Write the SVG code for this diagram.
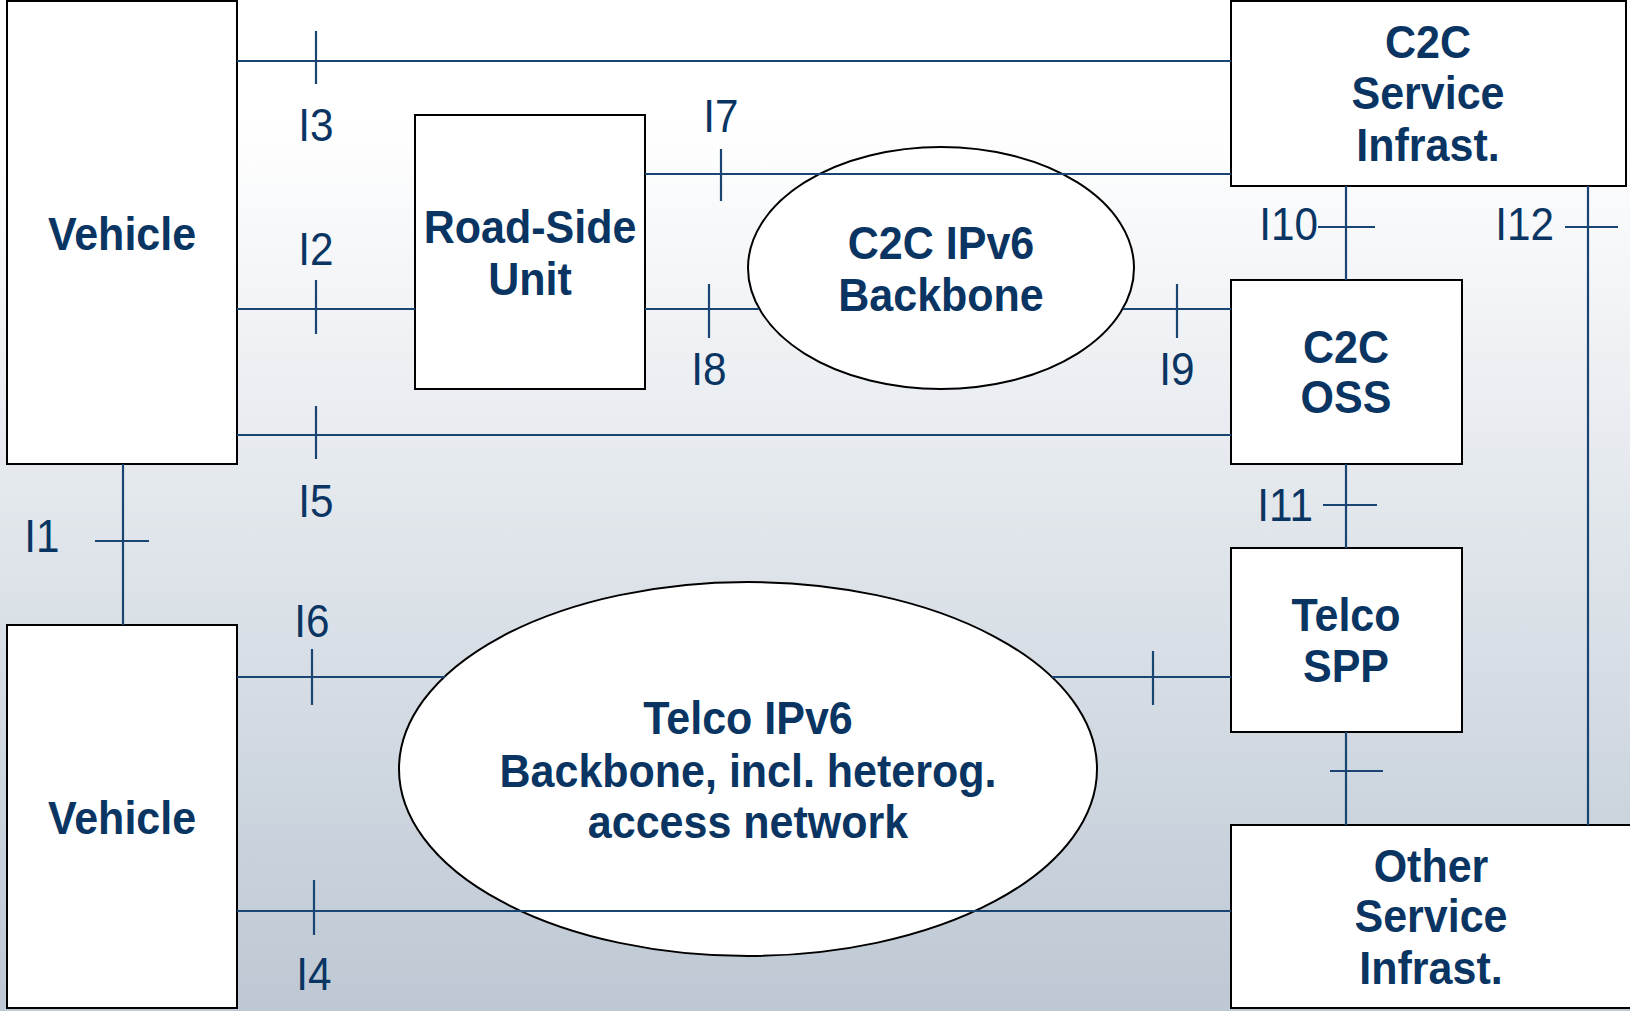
<svg xmlns="http://www.w3.org/2000/svg" width="1630" height="1011" viewBox="0 0 1630 1011">
<defs>
<linearGradient id="bg" gradientUnits="userSpaceOnUse" x1="0" y1="120" x2="0" y2="1011">
<stop offset="0" stop-color="#ffffff"/>
<stop offset="1" stop-color="#bdc8d4"/>
</linearGradient>
</defs>
<style>
.box{fill:#ffffff;stroke:#000000;stroke-width:2}
.ln{stroke:#1a4573;stroke-width:2.2;fill:none}
.nt{font-family:"Liberation Sans",Arial,sans-serif;font-weight:bold;font-size:46px;fill:#0a3563;text-anchor:middle}
.lb{font-family:"Liberation Sans",Arial,sans-serif;font-size:46px;fill:#0a3563;text-anchor:middle}
.lbe{text-anchor:end}
</style>
<rect x="0" y="0" width="1630" height="1011" fill="url(#bg)"/>

<g id="vehicle1">
<rect class="box" x="7" y="1" width="230" height="463"/>
<g transform="translate(122,0) scale(0.935,1)"><text class="nt" x="0" y="250">Vehicle</text></g>
</g>
<g id="vehicle2">
<rect class="box" x="7" y="625" width="230" height="383"/>
<g transform="translate(122,0) scale(0.935,1)"><text class="nt" x="0" y="834">Vehicle</text></g>
</g>
<g id="rsu">
<rect class="box" x="415" y="115" width="230" height="274"/>
<g transform="translate(530,0) scale(0.935,1)"><text class="nt" x="0" y="243">Road-Side</text><text class="nt" x="0" y="295">Unit</text></g>
</g>
<g id="c2c-backbone">
<ellipse class="box" cx="941" cy="268" rx="193" ry="121"/>
<g transform="translate(941,0) scale(0.935,1)"><text class="nt" x="0" y="259">C2C IPv6</text><text class="nt" x="0" y="311">Backbone</text></g>
</g>
<g id="c2c-service">
<rect class="box" x="1231" y="1" width="395" height="185"/>
<g transform="translate(1428,0) scale(0.935,1)"><text class="nt" x="0" y="58">C2C</text><text class="nt" x="0" y="109">Service</text><text class="nt" x="0" y="161">Infrast.</text></g>
</g>
<g id="c2c-oss">
<rect class="box" x="1231" y="280" width="231" height="184"/>
<g transform="translate(1346,0) scale(0.935,1)"><text class="nt" x="0" y="363">C2C</text><text class="nt" x="0" y="413">OSS</text></g>
</g>
<g id="telco-spp">
<rect class="box" x="1231" y="548" width="231" height="184"/>
<g transform="translate(1346,0) scale(0.935,1)"><text class="nt" x="0" y="631">Telco</text><text class="nt" x="0" y="682">SPP</text></g>
</g>
<g id="telco-backbone">
<ellipse class="box" cx="748" cy="769" rx="349" ry="187"/>
<g transform="translate(748,0) scale(0.935,1)"><text class="nt" x="0" y="734">Telco IPv6</text><text class="nt" x="0" y="787">Backbone, incl. heterog.</text><text class="nt" x="0" y="838">access network</text></g>
</g>
<g id="other-service">
<rect class="box" x="1231" y="825" width="400" height="183"/>
<g transform="translate(1431,0) scale(0.935,1)"><text class="nt" x="0" y="882">Other</text><text class="nt" x="0" y="932">Service</text><text class="nt" x="0" y="984">Infrast.</text></g>
</g>

<g id="connectors">
<!-- I3 -->
<line class="ln" x1="237" y1="61" x2="1231" y2="61"/>
<line class="ln" x1="316" y1="31" x2="316" y2="84"/>
<!-- I7 -->
<line class="ln" x1="645" y1="174" x2="1231" y2="174"/>
<line class="ln" x1="721" y1="149" x2="721" y2="201"/>
<!-- I2 -->
<line class="ln" x1="237" y1="309" x2="415" y2="309"/>
<line class="ln" x1="316" y1="280" x2="316" y2="334"/>
<!-- I8 -->
<line class="ln" x1="645" y1="309" x2="759" y2="309"/>
<line class="ln" x1="709" y1="284" x2="709" y2="338"/>
<!-- I9 -->
<line class="ln" x1="1123" y1="309" x2="1231" y2="309"/>
<line class="ln" x1="1177" y1="284" x2="1177" y2="338"/>
<!-- I5 -->
<line class="ln" x1="237" y1="435" x2="1231" y2="435"/>
<line class="ln" x1="316" y1="406" x2="316" y2="459"/>
<!-- I1 -->
<line class="ln" x1="123" y1="464" x2="123" y2="625"/>
<line class="ln" x1="95" y1="541" x2="149" y2="541"/>
<!-- I6 -->
<line class="ln" x1="237" y1="677" x2="445" y2="677"/>
<line class="ln" x1="312" y1="649" x2="312" y2="705"/>
<!-- Telco backbone - SPP -->
<line class="ln" x1="1052" y1="677" x2="1231" y2="677"/>
<line class="ln" x1="1153" y1="651" x2="1153" y2="705"/>
<!-- I4 -->
<line class="ln" x1="237" y1="911" x2="1231" y2="911"/>
<line class="ln" x1="314" y1="880" x2="314" y2="935"/>
<!-- I10 -->
<line class="ln" x1="1346" y1="186" x2="1346" y2="280"/>
<line class="ln" x1="1318" y1="227" x2="1375" y2="227"/>
<!-- I12 -->
<line class="ln" x1="1588" y1="186" x2="1588" y2="825"/>
<line class="ln" x1="1565" y1="227" x2="1618" y2="227"/>
<!-- I11 -->
<line class="ln" x1="1346" y1="464" x2="1346" y2="548"/>
<line class="ln" x1="1323" y1="505" x2="1377" y2="505"/>
<!-- SPP - Other -->
<line class="ln" x1="1346" y1="732" x2="1346" y2="825"/>
<line class="ln" x1="1330" y1="771" x2="1383" y2="771"/>
</g>

<g id="labels">
<g transform="translate(316,0) scale(0.92,1)"><text class="lb" x="0" y="141">I3</text><text class="lb" x="0" y="265">I2</text><text class="lb" x="0" y="517">I5</text></g>
<g transform="translate(721,0) scale(0.92,1)"><text class="lb" x="0" y="132">I7</text></g>
<g transform="translate(709,0) scale(0.92,1)"><text class="lb" x="0" y="385">I8</text></g>
<g transform="translate(1177,0) scale(0.92,1)"><text class="lb" x="0" y="385">I9</text></g>
<g transform="translate(42,0) scale(0.92,1)"><text class="lb" x="0" y="552">I1</text></g>
<g transform="translate(312,0) scale(0.92,1)"><text class="lb" x="0" y="637">I6</text></g>
<g transform="translate(314,0) scale(0.92,1)"><text class="lb" x="0" y="990">I4</text></g>
<g transform="translate(1318,0) scale(0.92,1)"><text class="lb lbe" x="0" y="240">I10</text></g>
<g transform="translate(1554,0) scale(0.92,1)"><text class="lb lbe" x="0" y="240">I12</text></g>
<g transform="translate(1313,0) scale(0.92,1)"><text class="lb lbe" x="0" y="521">I11</text></g>
</g>
</svg>
